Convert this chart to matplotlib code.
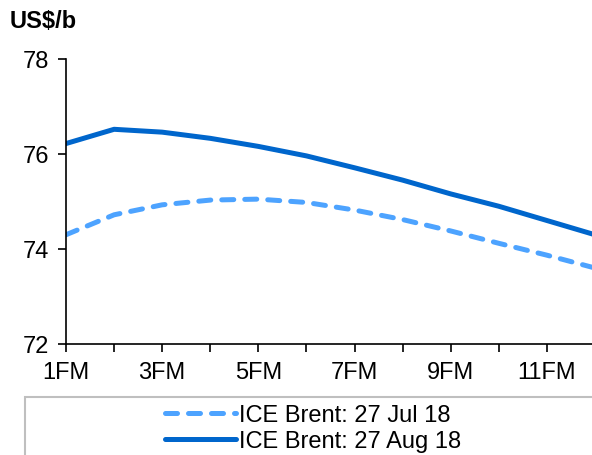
import matplotlib
matplotlib.use("Agg")
from matplotlib import pyplot as plt
from matplotlib.patches import Rectangle

plt.rcParams["font.family"] = ["Liberation Sans", "DejaVu Sans"]

# forward months (1FM .. 12FM)
months = [1, 2, 3, 4, 5, 6, 7, 8, 9, 10, 11, 12]
tick_labels = ["1FM", "", "3FM", "", "5FM", "", "7FM", "", "9FM", "", "11FM", ""]
brent_jul = [74.30, 74.72, 74.93, 75.03, 75.05, 74.98, 74.82, 74.62, 74.38, 74.12, 73.87, 73.60]
brent_aug = [76.22, 76.52, 76.46, 76.33, 76.16, 75.96, 75.71, 75.45, 75.16, 74.90, 74.60, 74.30]


fig = plt.figure(figsize=(5.92, 4.56), dpi=100)
ax = fig.add_axes([66 / 592, 1 - 345 / 456, 1 - 66 / 592 + 0.005, (345 - 60) / 456])

ax.plot(months, brent_jul, color="#4da3ff", linewidth=3.6,
        dashes=(2.4, 2.2), dash_capstyle="round",
        label="ICE Brent: 27 Jul 18")
ax.plot(months, brent_aug, color="#0066cc", linewidth=3.6,
        solid_capstyle="round", label="ICE Brent: 27 Aug 18")

ax.set_xlim(1, 11.95)
ax.set_ylim(72, 78)
ax.set_yticks([72, 74, 76, 78])
ax.set_xticks(months)
ax.set_xticklabels(tick_labels)
ax.tick_params(labelsize=17, length=6, width=1.2, color="black", pad=6)
for side in ["top", "right"]:
    ax.spines[side].set_visible(False)
for side in ["left", "bottom"]:
    ax.spines[side].set_linewidth(1.2)

fig.text(10 / 592, 1 - 22 / 456, "US$/b", fontsize=17, fontweight="bold",
         va="center", ha="left")

# legend box below the chart
fig.patches.append(Rectangle((25 / 592, -0.05), 1.0, 1 - 398 / 456 + 0.05,
                             transform=fig.transFigure, facecolor="white",
                             edgecolor="#bfbfbf", linewidth=1.5))
fig.legend(loc="upper left", bbox_to_anchor=(156 / 592, 1 - 396 / 456),
           frameon=False, fontsize=17, handlelength=3.0, handletextpad=0.12,
           labelspacing=0.15, borderaxespad=0)

fig.savefig("out.png", dpi=100)
